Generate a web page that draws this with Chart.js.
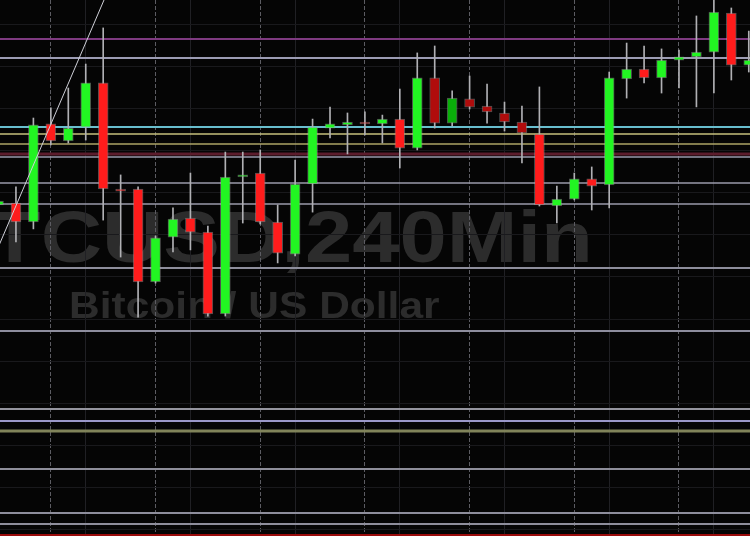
<!DOCTYPE html>
<html>
<head>
<meta charset="utf-8">
<script src="https://cdn.jsdelivr.net/npm/chart.js@4.4.1/dist/chart.umd.min.js"></script>
<style>
  html, body { margin: 0; padding: 0; background: #050505; }
  #wrap { width: 750px; height: 536px; position: relative; }
</style>
</head>
<body>
<div id="wrap"><canvas id="myChart"></canvas></div>
<script>
// BTCUSD 240 min candles (bar index, open, high, low, close)
const bars   = [0,1,2,3,4,5,6,7,8,9,10,11,12,13,14,15,16,17,18,19,20,21,22,23,24,25,26,27,28,29,30,31,32,33,34,35,36,37,38,39,40,41,42,43];
const opens  = [9374.3,9375.2,9366.2,9412.9,9404.8,9411.4,9432.4,9381.9,9381.9,9337.6,9359.0,9368.1,9361.4,9322.4,9387.6,9389.5,9366.2,9350.9,9384.3,9410.9,9412.4,9413.8,9412.9,9415.2,9401.4,9434.8,9413.3,9424.8,9421.4,9418.1,9413.8,9408.1,9373.8,9377.1,9386.7,9383.8,9434.3,9439.0,9434.8,9443.3,9444.8,9447.1,9465.7,9440.9];
const highs  = [9379.0,9382.9,9415.7,9420.5,9430.0,9441.4,9458.6,9388.6,9382.9,9359.5,9372.9,9389.5,9364.3,9399.5,9399.5,9400.5,9374.3,9395.7,9415.2,9420.9,9418.1,9418.6,9417.1,9429.5,9446.7,9450.0,9428.6,9435.7,9431.9,9423.3,9421.4,9430.5,9383.3,9389.5,9392.4,9437.6,9451.4,9450.0,9448.6,9448.1,9464.3,9474.3,9468.1,9457.1];
const lows   = [9371.9,9356.7,9362.9,9402.9,9403.8,9405.2,9367.1,9349.5,9320.9,9337.1,9351.9,9352.9,9321.4,9321.4,9365.7,9365.2,9346.7,9350.0,9370.9,9406.2,9398.6,9407.6,9403.8,9391.9,9400.5,9410.9,9411.9,9420.0,9413.3,9409.5,9394.3,9373.8,9365.7,9376.7,9371.9,9372.9,9425.2,9432.4,9427.6,9430.0,9421.0,9427.6,9433.8,9437.6];
const closes = [9376.2,9366.2,9412.4,9404.8,9410.9,9432.4,9381.9,9380.9,9337.6,9358.6,9367.6,9361.4,9322.4,9387.6,9388.6,9366.2,9351.4,9384.3,9411.4,9412.9,9413.8,9412.9,9415.2,9401.4,9434.8,9413.3,9425.2,9420.9,9418.6,9413.8,9408.6,9374.3,9377.1,9386.7,9383.3,9434.8,9439.0,9434.8,9443.3,9444.8,9447.1,9466.2,9440.9,9443.3];

// horizontal levels drawn on the chart
const levelPrices = [9453.3,9444.3,9411.4,9408.1,9403.3,9398.6,9397.1,9384.8,9374.8,9344.3,9314.3,9277.1,9271.4,9266.7,9248.6,9227.6,9222.4,9217.1];
// trend line (bar index, price)
const trendX = [0, 6.5];
const trendY = [9354.5, 9480.7];

// grid
const priceTicks = [9220,9240,9260,9280,9300,9320,9340,9360,9380,9400,9420,9440,9460];
const majorBarTicks = [3,9,15,21,27,33,39];
const minorBarTicks = [5,11,17,23,29,35,41];

// ---- styles ----
const levelColors = ['#7e3a80','#9c9cb4','#68bece','#c6c07c','#aca466','#5c1c2c','#9a9aac','#9a9aaa','#9a9aaa','#8e8e9c','#8e8e9e','#94949e','#9a98c8','#80835a','#8e8e9a','#8e8e9c','#8e8e9c','#9a0c0c'];
const levelWidths = [2,2,2,1.5,1.5,3,1.5,1.5,1.5,2,2,2,2,3,2,2,2,2];
const dimBars = [25,26,27,28,29,30];
const UP = '#22f522', DOWN = '#ff1c1c', UP_DIM = '#0aae0a', DOWN_DIM = '#b00c0c';

const candleColor = i => {
    const up = closes[i] >= opens[i];
    const dim = dimBars.includes(i);
    return up ? (dim ? UP_DIM : UP) : (dim ? DOWN_DIM : DOWN);
};

// watermark text is stretched horizontally like the source screenshot
const STRETCH = 1.18;

const bgPlugin = {
    id: 'bg',
    beforeDraw(chart) {
        const ctx = chart.ctx;
        ctx.save();
        ctx.fillStyle = '#050505';
        ctx.fillRect(0, 0, chart.width, chart.height);
        ctx.fillStyle = '#2c2c2c';
        ctx.textBaseline = 'alphabetic';
        ctx.scale(STRETCH, 1);
        ctx.font = 'bold 72px "Liberation Sans", Arial';
        ctx.textAlign = 'right';
        ctx.fillText('BTCUSD,240Min', 593 / STRETCH, 262);
        ctx.font = 'bold 36px "Liberation Sans", Arial';
        ctx.textAlign = 'left';
        ctx.fillText('Bitcoin / US Dollar', 69 / STRETCH, 318);
        ctx.restore();
    }
};

const levelsPlugin = {
    id: 'levels',
    beforeDatasetsDraw(chart) {
        const {ctx, chartArea, scales} = chart;
        ctx.save();
        levelPrices.forEach((p, i) => {
            const y = scales.y.getPixelForValue(p);
            ctx.strokeStyle = levelColors[i];
            ctx.lineWidth = levelWidths[i];
            ctx.beginPath();
            ctx.moveTo(chartArea.left, y);
            ctx.lineTo(chartArea.right, y);
            ctx.stroke();
        });
        ctx.restore();
    }
};

const renderChart = () => {
    const ctx = document.getElementById('myChart');
    const wicks = bars.map((b, i) => ({x: b, y: [lows[i], highs[i]]}));
    const bodies = bars.map((b, i) => ({x: b, y: [opens[i], closes[i]]}));
    const trend = trendX.map((x, i) => ({x: x, y: trendY[i]}));

    new Chart(ctx, {
        type: 'bar',
        data: {
            datasets: [
                {
                    type: 'line',
                    data: trend,
                    borderColor: '#cfd0d8',
                    borderWidth: 1,
                    pointRadius: 0,
                    order: 0
                },
                {
                    data: wicks,
                    backgroundColor: '#b0b0b4',
                    barThickness: 1,
                    grouped: false,
                    order: 2
                },
                {
                    data: bodies,
                    backgroundColor: bodies.map((d, i) => candleColor(i)),
                    borderColor: 'rgba(170,170,170,0.45)',
                    borderWidth: 1,
                    borderSkipped: false,
                    barThickness: 10,
                    grouped: false,
                    order: 1
                }
            ]
        },
        options: {
            responsive: true,
            maintainAspectRatio: false,
            animation: false,
            layout: { padding: 0 },
            plugins: {
                legend: { display: false },
                tooltip: { enabled: false }
            },
            scales: {
                x: {
                    type: 'linear',
                    offset: false,
                    min: 0.086,
                    max: 43.07,
                    afterBuildTicks: s => { s.ticks = minorBarTicks.map(v => ({value: v})); },
                    ticks: { display: false },
                    grid: { color: '#202024', lineWidth: 1, drawTicks: false, offset: false },
                    border: { display: false }
                },
                x2: {
                    type: 'linear',
                    position: 'bottom',
                    offset: false,
                    min: 0.086,
                    max: 43.07,
                    afterBuildTicks: s => { s.ticks = majorBarTicks.map(v => ({value: v})); },
                    ticks: { display: false },
                    grid: { color: '#5c5c62', lineWidth: 1, drawTicks: false, offset: false },
                    border: { display: false, dash: [4, 2] }
                },
                y: {
                    min: 9216.67,
                    max: 9471.9,
                    afterBuildTicks: s => { s.ticks = priceTicks.map(v => ({value: v})); },
                    ticks: { display: false },
                    grid: { color: '#19191c', lineWidth: 1, drawTicks: false },
                    border: { display: false }
                }
            }
        },
        plugins: [bgPlugin, levelsPlugin]
    });
};

renderChart();
</script>
</body>
</html>
